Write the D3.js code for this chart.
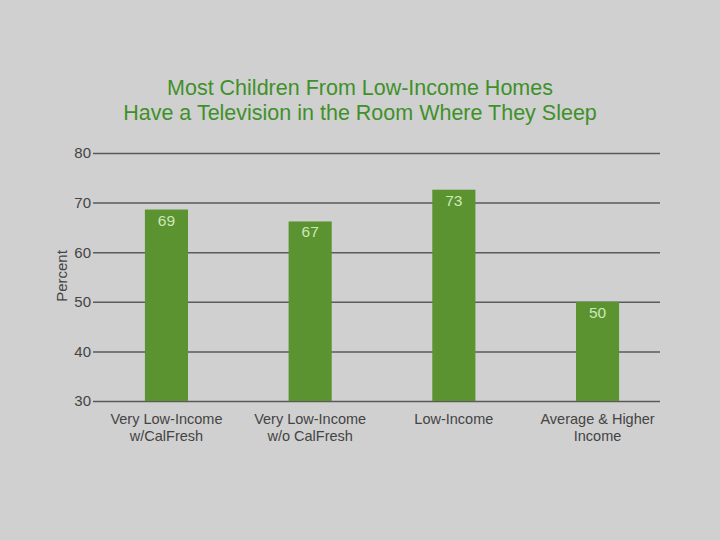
<!DOCTYPE html>
<html><head><meta charset="utf-8">
<script src="https://cdn.jsdelivr.net/npm/d3@7"></script>
<style>
html,body{margin:0;padding:0;background:#d0d0d0;}
svg{display:block;}
text{font-family:"Liberation Sans",Arial,Helvetica,sans-serif;}
</style></head>
<body>
<script>
const categories = [["Very Low-Income","w/CalFresh"],["Very Low-Income","w/o CalFresh"],["Low-Income"],["Average & Higher","Income"]];
const values = [68.6, 66.2, 72.6, 50];
const valueLabels = ["69","67","73","50"];
const yTicks = [30,40,50,60,70,80];
const titleLines = ["Most Children From Low-Income Homes","Have a Television in the Room Where They Sleep"];

const W=720,H=540;
const svg=d3.select("body").append("svg").attr("width",W).attr("height",H);
svg.append("rect").attr("width",W).attr("height",H).attr("fill","#d0d0d0");

const x=d3.scaleBand().domain(d3.range(categories.length)).range([94.6,669.4]).paddingInner(0.7).paddingOuter(0.35);
const y=d3.scaleLinear().domain([30,80]).range([401,153]);

// gridlines
const yAxis=d3.axisLeft(y).tickValues(yTicks).tickSize(-(660-93)).tickPadding(4);
const gy=svg.append("g").attr("transform","translate(93,0)").call(yAxis);
gy.select(".domain").remove();
gy.selectAll(".tick line").attr("stroke","#5a5a5a").attr("stroke-width",1.5);
gy.selectAll(".tick text").attr("fill","#444").attr("font-size",15).attr("dx",2);

// bars
svg.selectAll("rect.bar").data(values).enter().append("rect").attr("class","bar")
  .attr("x",(d,i)=>x(i)).attr("width",x.bandwidth())
  .attr("y",d=>y(d)).attr("height",d=>y(30)-y(d))
  .attr("fill","#5b9331");

svg.selectAll("text.vl").data(values).enter().append("text").attr("class","vl")
  .attr("x",(d,i)=>x(i)+x.bandwidth()/2).attr("y",d=>y(d)+16)
  .attr("text-anchor","middle").attr("font-size",15.5).attr("fill","#cde8b8")
  .text((d,i)=>valueLabels[i]);

// category labels
const cat=svg.selectAll("text.cat").data(categories).enter().append("text").attr("class","cat")
  .attr("text-anchor","middle").attr("font-size",14.5).attr("fill","#444");
cat.each(function(d,i){
  const t=d3.select(this);
  d.forEach((line,j)=>{
    t.append("tspan").attr("x",x(i)+x.bandwidth()/2).attr("y",424+j*17).text(line);
  });
});

// y label
svg.append("text").attr("transform","translate(67,276) rotate(-90)")
  .attr("text-anchor","middle").attr("font-size",15).attr("fill","#444").text("Percent");

// title
svg.selectAll("text.title").data(titleLines).enter().append("text").attr("class","title")
  .attr("x",360).attr("y",(d,i)=>95+i*25).attr("text-anchor","middle")
  .attr("font-size",21.5).attr("fill","#40902a").text(d=>d);
</script>
</body></html>
